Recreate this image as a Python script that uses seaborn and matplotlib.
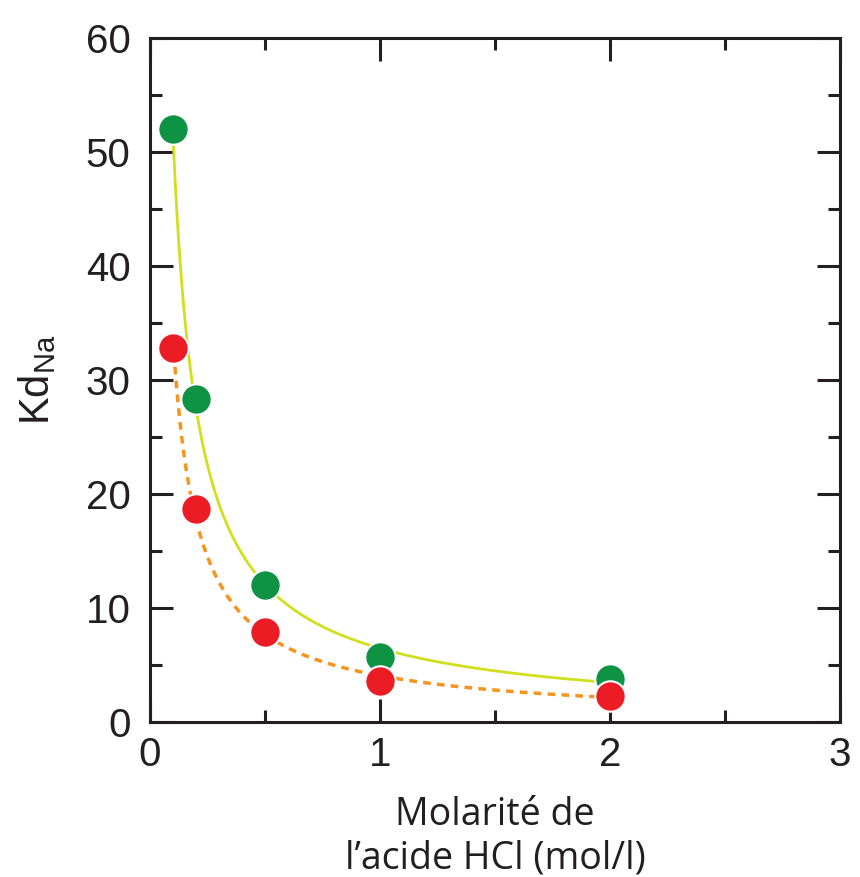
import numpy as np
import matplotlib
matplotlib.use("Agg")
import matplotlib.pyplot as plt
import seaborn as sns
from matplotlib.ticker import MultipleLocator

# data
molarite = [0.1, 0.2, 0.5, 1.0, 2.0]
kd_vert = [52.0, 28.3, 12.0, 5.7, 3.8]
kd_rouge = [32.8, 18.7, 7.9, 3.6, 2.3]

sns.set_style("ticks")
plt.rcParams['font.family'] = ['Liberation Sans', 'DejaVu Sans']

fig = plt.figure(figsize=(8.6, 8.77), dpi=100)
ax = fig.add_axes([0.1744, 0.1767, 0.8023, 0.78])

# power-law fits  y = a * x^b
def fit(x, y):
    b, loga = np.polyfit(np.log(x), np.log(y), 1)
    xs = np.linspace(min(x), max(x), 200)
    return xs, np.exp(loga) * xs ** b

xs, ys = fit(molarite, kd_vert)
sns.lineplot(x=xs, y=ys, ax=ax, color="#d2df1e", lw=2, zorder=2)
xs, ys = fit(molarite, kd_rouge)
sns.lineplot(x=xs, y=ys, ax=ax, color="#f7941d", lw=2.5, ls=(0, (2.2, 1.8)), zorder=2)

sns.scatterplot(x=molarite, y=kd_vert, ax=ax, s=480, color="#0e9345",
                edgecolor="white", linewidth=1.5, zorder=3)
sns.scatterplot(x=molarite, y=kd_rouge, ax=ax, s=480, color="#ec1c24",
                edgecolor="white", linewidth=1.5, zorder=4)

ax.set_xlim(0, 3)
ax.set_ylim(0, 60)
ax.xaxis.set_major_locator(MultipleLocator(1))
ax.xaxis.set_minor_locator(MultipleLocator(0.5))
ax.yaxis.set_major_locator(MultipleLocator(10))
ax.yaxis.set_minor_locator(MultipleLocator(5))
ax.tick_params(which="both", direction="in", top=True, right=True,
               width=2.2, color="#231f20", labelsize=29, labelcolor="#231f20")
ax.tick_params(axis="x", which="major", length=16.5, pad=10)
ax.tick_params(axis="y", which="major", length=16.5, pad=14)
ax.tick_params(which="minor", length=8.5)
for s in ax.spines.values():
    s.set_linewidth(2.2)
    s.set_color("#231f20")

ax.set_xlabel("Molarité de\nl\u2019acide HCl (mol/l)", fontsize=27,
              family=["Open Sans", "DejaVu Sans"], color="#231f20", labelpad=16,
              linespacing=1.2)
ax.set_ylabel(r"Kd$_\mathregular{Na}$", fontsize=30, color="#231f20", labelpad=20)

fig.savefig("out.png", dpi=100)
